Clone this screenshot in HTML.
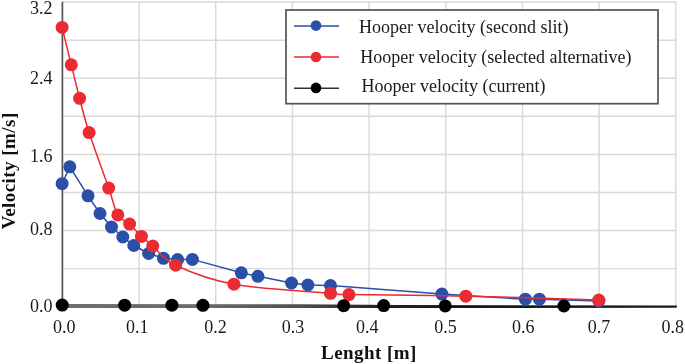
<!DOCTYPE html>
<html><head><meta charset="utf-8"><style>
html,body{margin:0;padding:0;background:#fff;}
svg{display:block;will-change:transform;}
.t{font-family:"Liberation Serif",serif;font-size:18px;fill:#1a1a1a;}
.b{font-family:"Liberation Serif",serif;font-size:19px;font-weight:bold;fill:#111;letter-spacing:0.45px;}
</style></head><body>
<svg width="685" height="364" viewBox="0 0 685 364">
<rect width="685" height="364" fill="#fff"/>
<path d="M62.4,2.1H676.6 M62.4,40.2H676.6 M62.4,78.3H676.6 M62.4,116.3H676.6 M62.4,154.4H676.6 M62.4,192.5H676.6 M62.4,230.5H676.6 M62.4,268.6H676.6 M139.1,2.3V306 M215.7,2.3V306 M292.4,2.3V306 M369.1,2.3V306 M445.8,2.3V306 M522.5,2.3V306 M599.1,2.3V306 M675.8,2.3V306" stroke="#d9d9d9" stroke-width="1.45" fill="none"/>
<path d="M62.4,1.8V306" stroke="#555" stroke-width="1.7" fill="none"/>
<defs><linearGradient id="ax" gradientUnits="userSpaceOnUse" x1="62" y1="0" x2="676" y2="0"><stop offset="0" stop-color="#6b6e70"/><stop offset="0.22" stop-color="#6a6d70"/><stop offset="0.38" stop-color="#4e5254"/><stop offset="0.50" stop-color="#25282a"/><stop offset="0.62" stop-color="#16181a"/><stop offset="1" stop-color="#1a1c1e"/></linearGradient></defs>
<path d="M62.4,303.9 L300,304.3 L400,305 L676.8,305.4 L676.8,307.7 L400,308 L62.4,308 Z" fill="url(#ax)"/>
<path d="M62.1,183.7 L69.8,166.8 L88.0,195.8 L100.0,213.5 L111.5,227.1 L122.8,237.0 L133.8,245.5 L148.6,253.5 L163.5,258.3 L177.6,259.6 L192.4,259.4 L241.3,272.8 L257.9,276.3 L291.5,283.0 L307.9,285.0 L330.5,285.5 L441.9,294.1 L525.4,299.2 L539.4,299.2 L598.9,301.1" stroke="#2a4fa8" stroke-width="1.5" fill="none"/>
<circle cx="62.1" cy="183.70000000000002" r="6.5" fill="#2a4fa8"/>
<circle cx="69.8" cy="166.8" r="6.5" fill="#2a4fa8"/>
<circle cx="88" cy="195.8" r="6.5" fill="#2a4fa8"/>
<circle cx="100" cy="213.5" r="6.5" fill="#2a4fa8"/>
<circle cx="111.5" cy="227.10000000000002" r="6.5" fill="#2a4fa8"/>
<circle cx="122.8" cy="237.0" r="6.5" fill="#2a4fa8"/>
<circle cx="133.8" cy="245.5" r="6.5" fill="#2a4fa8"/>
<circle cx="148.6" cy="253.5" r="6.5" fill="#2a4fa8"/>
<circle cx="163.5" cy="258.3" r="6.5" fill="#2a4fa8"/>
<circle cx="177.6" cy="259.6" r="6.5" fill="#2a4fa8"/>
<circle cx="192.4" cy="259.40000000000003" r="6.5" fill="#2a4fa8"/>
<circle cx="241.3" cy="272.8" r="6.5" fill="#2a4fa8"/>
<circle cx="257.9" cy="276.3" r="6.5" fill="#2a4fa8"/>
<circle cx="291.5" cy="283.0" r="6.5" fill="#2a4fa8"/>
<circle cx="307.9" cy="285.0" r="6.5" fill="#2a4fa8"/>
<circle cx="330.5" cy="285.5" r="6.5" fill="#2a4fa8"/>
<circle cx="441.9" cy="294.1" r="6.5" fill="#2a4fa8"/>
<circle cx="525.4" cy="299.2" r="6.5" fill="#2a4fa8"/>
<circle cx="539.4" cy="299.2" r="6.5" fill="#2a4fa8"/>
<circle cx="598.9" cy="301.1" r="6.5" fill="#2a4fa8"/>
<path d="M62.10,27.40 C63.63,33.63 68.38,52.98 71.30,64.80 C74.22,76.62 76.63,87.00 79.60,98.30 C82.57,109.60 84.25,117.63 89.10,132.60 C93.95,147.57 103.92,174.38 108.70,188.10 C113.48,201.82 114.32,208.90 117.80,214.90 C121.28,220.90 125.67,220.52 129.60,224.10 C133.53,227.68 137.53,232.73 141.40,236.40 C145.27,240.07 147.10,241.30 152.80,246.10 C158.50,250.90 162.08,258.85 175.60,265.20 C189.12,271.55 208.08,279.52 233.90,284.20 C259.72,288.88 311.33,291.57 330.50,293.30 C349.67,295.03 326.35,294.12 348.90,294.60 C371.45,295.08 424.15,295.30 465.80,296.20 C507.45,297.10 576.63,299.37 598.80,300.00" stroke="#ec2a31" stroke-width="1.5" fill="none"/>
<circle cx="62.1" cy="27.400000000000002" r="6.5" fill="#ec2a31"/>
<circle cx="71.3" cy="64.8" r="6.5" fill="#ec2a31"/>
<circle cx="79.6" cy="98.3" r="6.5" fill="#ec2a31"/>
<circle cx="89.1" cy="132.60000000000002" r="6.5" fill="#ec2a31"/>
<circle cx="108.7" cy="188.10000000000002" r="6.5" fill="#ec2a31"/>
<circle cx="117.8" cy="214.9" r="6.5" fill="#ec2a31"/>
<circle cx="129.6" cy="224.10000000000002" r="6.5" fill="#ec2a31"/>
<circle cx="141.4" cy="236.4" r="6.5" fill="#ec2a31"/>
<circle cx="152.8" cy="246.10000000000002" r="6.5" fill="#ec2a31"/>
<circle cx="175.6" cy="265.2" r="6.5" fill="#ec2a31"/>
<circle cx="233.9" cy="284.2" r="6.5" fill="#ec2a31"/>
<circle cx="330.5" cy="293.3" r="6.5" fill="#ec2a31"/>
<circle cx="348.9" cy="294.6" r="6.5" fill="#ec2a31"/>
<circle cx="465.8" cy="296.2" r="6.5" fill="#ec2a31"/>
<circle cx="598.8" cy="300.0" r="6.5" fill="#ec2a31"/>
<circle cx="62.2" cy="305.1" r="6.5" fill="#000"/>
<circle cx="124.6" cy="305.2" r="6.5" fill="#000"/>
<circle cx="171.9" cy="305.2" r="6.5" fill="#000"/>
<circle cx="202.9" cy="305.3" r="6.5" fill="#000"/>
<circle cx="343.7" cy="305.7" r="6.5" fill="#000"/>
<circle cx="383.7" cy="305.6" r="6.5" fill="#000"/>
<circle cx="445.2" cy="305.9" r="6.5" fill="#000"/>
<circle cx="563.9" cy="306" r="6.5" fill="#000"/>
<rect x="286" y="10" width="372" height="93.7" fill="#fff" stroke="#505355" stroke-width="1.7"/>
<path d="M294,26H339" stroke="#2a4fa8" stroke-width="1.4"/>
<circle cx="316" cy="25.6" r="5.3" fill="#2a4fa8"/>
<text x="359" y="32.7" class="t">Hooper velocity (second slit)</text>
<path d="M294,57H339" stroke="#ec2a31" stroke-width="1.4"/>
<circle cx="316" cy="57.0" r="5.3" fill="#ec2a31"/>
<text x="360.2" y="62.8" class="t">Hooper velocity (selected alternative)</text>
<path d="M294,88.2H339" stroke="#333" stroke-width="1.4"/>
<circle cx="316" cy="87.9" r="5.3" fill="#000"/>
<text x="361.6" y="92.1" class="t">Hooper velocity (current)</text>
<text x="52.5" y="14" class="t" text-anchor="end">3.2</text>
<text x="52.5" y="83.8" class="t" text-anchor="end">2.4</text>
<text x="52.5" y="162.2" class="t" text-anchor="end">1.6</text>
<text x="52.5" y="235.3" class="t" text-anchor="end">0.8</text>
<text x="52.5" y="311.7" class="t" text-anchor="end">0.0</text>
<text x="64.3" y="332.5" class="t" text-anchor="middle">0.0</text>
<text x="137.2" y="332.5" class="t" text-anchor="middle">0.1</text>
<text x="215.6" y="332.5" class="t" text-anchor="middle">0.2</text>
<text x="293.1" y="332.5" class="t" text-anchor="middle">0.3</text>
<text x="367.2" y="332.5" class="t" text-anchor="middle">0.4</text>
<text x="445.4" y="332.5" class="t" text-anchor="middle">0.5</text>
<text x="523.2" y="332.5" class="t" text-anchor="middle">0.6</text>
<text x="598.9" y="332.5" class="t" text-anchor="middle">0.7</text>
<text x="672.8" y="332.5" class="t" text-anchor="middle">0.8</text>
<text x="369" y="358.5" class="b" text-anchor="middle">Lenght [m]</text>
<text transform="translate(15.1,170.8) rotate(-90)" class="b" text-anchor="middle">Velocity [m/s]</text>
</svg>
</body></html>
